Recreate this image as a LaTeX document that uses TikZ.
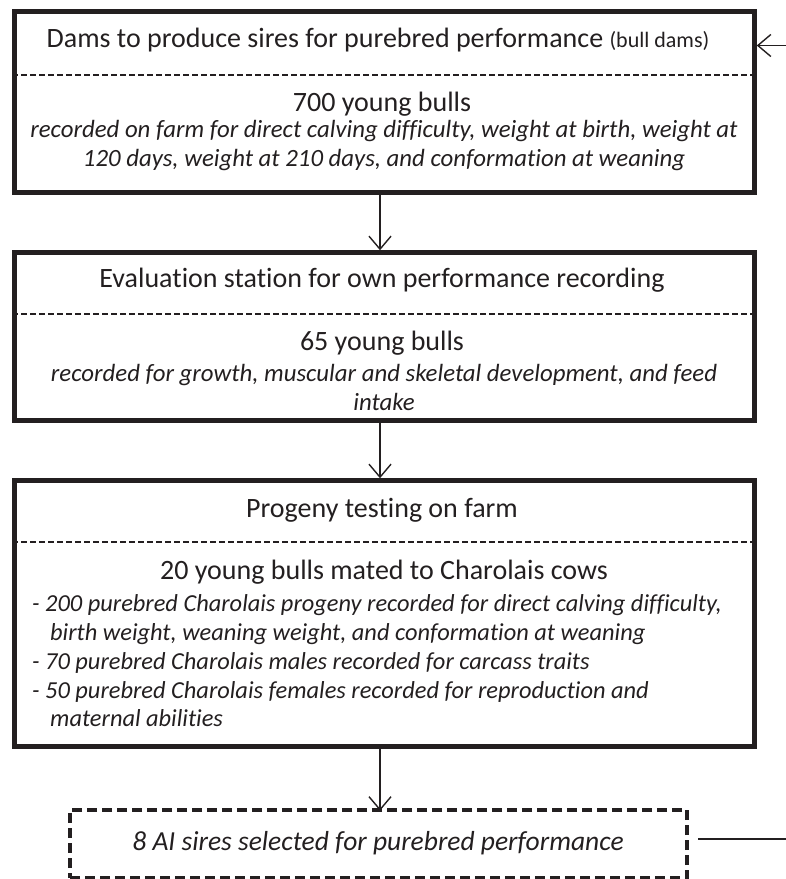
\documentclass[tikz,border=0pt]{standalone}
\usepackage{fontspec}
\setmainfont{Carlito}[Ligatures=NoCommon]
\usetikzlibrary{arrows.meta}
\definecolor{ink}{HTML}{231F20}
\begin{document}
\begin{tikzpicture}[x=1pt,y=-1pt,
  box/.style={draw=ink, line width=4.5pt, inner sep=0pt},
  dbox/.style={draw=ink, line width=4.5pt, inner sep=0pt, dash pattern=on 10pt off 5pt},
  sep/.style={draw=ink, line width=1.6pt, dash pattern=on 6pt off 3pt},
  arr/.style={draw=ink, line width=1.4pt, -{Straight Barb[length=13pt,width=22pt,line width=1.4pt]}},
  plain/.style={draw=ink, line width=1.4pt},
  title/.style={text=ink, inner sep=0pt, font=\fontsize{28}{34}\selectfont},
  body/.style={text=ink, inner sep=0pt, align=center, font=\fontsize{24.8}{29}\selectfont\itshape},
  list/.style={text=ink, inner sep=0pt, align=left, font=\fontsize{24.4}{28.7}\selectfont\itshape}]
\useasboundingbox (0,0) rectangle (786,879);

% boxes
\node[box, minimum width=740pt, minimum height=181pt] (b1) at (384.5,102) {};
\node[box, minimum width=740pt, minimum height=168pt] (b2) at (384.5,336.5) {};
\node[box, minimum width=740pt, minimum height=266pt] (b3) at (384.5,613.5) {};
\node[dbox, minimum width=617pt, minimum height=68pt] (b4) at (378.5,844) {};

% separators
\coordinate (s1) at (0,75);
\coordinate (s2) at (0,314);
\coordinate (s3) at (0,542);
\draw[sep] (b1.west |- s1) -- (b1.east |- s1);
\draw[sep] (b2.west |- s2) -- (b2.east |- s2);
\draw[sep] (b3.west |- s3) -- (b3.east |- s3);

% texts
\node[title] (t1) at (378,40) {Dams to produce sires for purebred performance {\fontsize{22}{26}\selectfont(bull dams)}};
\node[title] (n1) at (382,104) {700 young bulls};
\node[body] (d1) at (384,146) {recorded on farm for direct calving difficulty, weight at birth, weight at\\120 days, weight at 210 days, and conformation at weaning};

\node[title] (t2) at (382,280) {Evaluation station for own performance recording};
\node[title] (n2) at (382,343) {65 young bulls};
\node[body] (d2) at (384,387) {recorded for growth, muscular and skeletal development, and feed\\intake};

\node[title] (t3) at (382,510) {Progeny testing on farm};
\node[title] (n3) at (384,572) {20 young bulls mated to Charolais cows};
\node[list, anchor=west] (d3) at (32,661) {- 200 purebred Charolais progeny recorded for direct calving difficulty,\\
\hspace*{18pt}birth weight, weaning weight, and conformation at weaning\\
- 70 purebred Charolais males recorded for carcass traits\\
- 50 purebred Charolais females recorded for reproduction and\\
\hspace*{18pt}maternal abilities};

\node[body, font=\fontsize{27.5}{32}\selectfont\itshape] (t4) at (378,843) {8 AI sires selected for purebred performance};

% connectors
\coordinate (ax) at (380,0);
\draw[arr] (b1.south -| ax) -- (b2.north -| ax);
\draw[arr] (b2.south -| ax) -- (b3.north -| ax);
\draw[arr] (b3.south -| ax) -- ([yshift=-3pt]b4.north -| ax);
\coordinate (in1) at (786,45.5);
\draw[arr] (in1) -- (b1.east |- in1);
\coordinate (out4) at (786,839);
\draw[plain, shorten <=9pt] (b4.east |- out4) -- (out4);
\end{tikzpicture}
\end{document}
